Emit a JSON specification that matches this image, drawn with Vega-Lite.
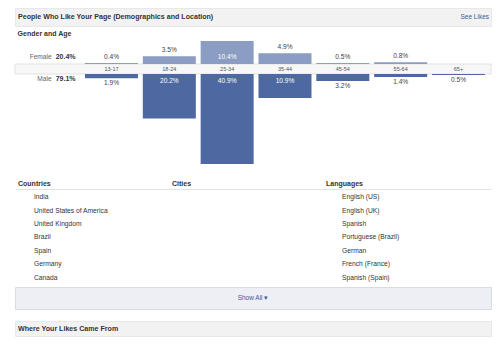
{
  "$schema": "https://vega.github.io/schema/vega-lite/v6.json",
  "padding": {"left": 14, "right": 10, "top": 7, "bottom": 9},
  "background": "white",
  "bounds": "flush",
  "spacing": 12,
  "config": {
    "view": {"stroke": null},
    "font": "Liberation Sans",
    "text": {"font": "Liberation Sans"},
    "title": {"font": "Liberation Sans"},
    "axis": {"labelFont": "Liberation Sans"}
  },
  "datasets": {
    "genderAge": [
      {"gender": "Female", "age": "13-17", "share": 0.004},
      {"gender": "Female", "age": "18-24", "share": 0.035},
      {"gender": "Female", "age": "25-34", "share": 0.104},
      {"gender": "Female", "age": "35-44", "share": 0.049},
      {"gender": "Female", "age": "45-54", "share": 0.005},
      {"gender": "Female", "age": "55-64", "share": 0.008},
      {"gender": "Male", "age": "13-17", "share": 0.019},
      {"gender": "Male", "age": "18-24", "share": 0.202},
      {"gender": "Male", "age": "25-34", "share": 0.409},
      {"gender": "Male", "age": "35-44", "share": 0.109},
      {"gender": "Male", "age": "45-54", "share": 0.032},
      {"gender": "Male", "age": "55-64", "share": 0.014},
      {"gender": "Male", "age": "65+", "share": 0.005}
    ],
    "totals": [
      {"gender": "Female", "share": 0.204},
      {"gender": "Male", "share": 0.791}
    ],
    "lists": [
      {"list": "Countries", "rank": 1, "name": "India"},
      {"list": "Countries", "rank": 2, "name": "United States of America"},
      {"list": "Countries", "rank": 3, "name": "United Kingdom"},
      {"list": "Countries", "rank": 4, "name": "Brazil"},
      {"list": "Countries", "rank": 5, "name": "Spain"},
      {"list": "Countries", "rank": 6, "name": "Germany"},
      {"list": "Countries", "rank": 7, "name": "Canada"},
      {"list": "Languages", "rank": 1, "name": "English (US)"},
      {"list": "Languages", "rank": 2, "name": "English (UK)"},
      {"list": "Languages", "rank": 3, "name": "Spanish"},
      {"list": "Languages", "rank": 4, "name": "Portuguese (Brazil)"},
      {"list": "Languages", "rank": 5, "name": "German"},
      {"list": "Languages", "rank": 6, "name": "French (France)"},
      {"list": "Languages", "rank": 7, "name": "Spanish (Spain)"}
    ]
  },
  "vconcat": [
    {
      "width": 476,
      "height": 18,
      "view": {"fill": "#f2f2f2", "stroke": "#e8e8e8"},
      "layer": [
        {
          "data": {"values": [{}]},
          "mark": {"type": "text", "text": "People Who Like Your Page (Demographics and Location)", "align": "left", "dx": 3, "fontWeight": "bold", "fontSize": 7.1, "color": "#333333"},
          "encoding": {"x": {"datum": 0, "type": "quantitative", "scale": {"domain": [0, 1]}, "axis": null}}
        },
        {
          "data": {"values": [{}]},
          "mark": {"type": "text", "text": "See Likes", "align": "right", "dx": -2, "fontSize": 6.5, "color": "#3b5998"},
          "encoding": {"x": {"datum": 1, "type": "quantitative", "scale": {"domain": [0, 1]}, "axis": null}}
        }
      ]
    },
    {
      "width": 476,
      "height": 139,
      "title": {"text": "Gender and Age", "anchor": "start", "dx": 3, "offset": 1, "fontSize": 7, "fontWeight": "bold", "color": "#333333"},
      "resolve": {"scale": {"y": "independent"}},
      "layer": [
        {
          "layer": [
            {
              "data": {"values": [{}]},
              "mark": {"type": "rect", "fill": "#f7f7f7", "stroke": "#dcdcdc", "strokeWidth": 0.8, "yOffset": -5, "y2Offset": 5},
              "encoding": {
                "y": {"datum": 0, "type": "quantitative", "scale": {"domain": [-0.4909, 0.1409], "nice": false, "zero": false}, "axis": null},
                "y2": {"datum": 0}
              }
            },
            {
              "data": {"name": "genderAge"},
              "transform": [{"filter": "datum.gender == 'Female'"}],
              "mark": {"type": "bar", "color": "#8b9dc3", "yOffset": -5, "y2Offset": -5},
              "encoding": {
                "x": {"field": "age", "type": "nominal", "scale": {"type": "band", "domain": ["All", "13-17", "18-24", "25-34", "35-44", "45-54", "55-64", "65+"], "paddingInner": 0.0835, "paddingOuter": 0.157, "align": 0.669}, "axis": null},
                "y": {"field": "share", "type": "quantitative", "scale": {"domain": [-0.4909, 0.1409], "nice": false, "zero": false}, "axis": null}
              }
            },
            {
              "data": {"name": "genderAge"},
              "transform": [{"filter": "datum.gender == 'Female' && datum.share < 0.1"}],
              "mark": {"type": "text", "dy": -11, "fontSize": 6.6, "color": "#444444"},
              "encoding": {
                "x": {"field": "age", "type": "nominal", "axis": null},
                "y": {"field": "share", "type": "quantitative", "axis": null},
                "text": {"field": "share", "type": "quantitative", "format": ".1%"}
              }
            },
            {
              "data": {"name": "genderAge"},
              "transform": [{"filter": "datum.gender == 'Female' && datum.share >= 0.1"}],
              "mark": {"type": "text", "dy": -12, "fontSize": 6.6, "color": "white"},
              "encoding": {
                "x": {"field": "age", "type": "nominal", "axis": null},
                "y": {"datum": 0, "type": "quantitative", "axis": null},
                "text": {"field": "share", "type": "quantitative", "format": ".1%"}
              }
            },
            {
              "data": {"name": "genderAge"},
              "transform": [{"filter": "datum.gender == 'Male'"}],
              "mark": {"type": "text", "fontSize": 5.5, "color": "#555555"},
              "encoding": {
                "x": {"field": "age", "type": "nominal", "axis": null},
                "y": {"datum": 0, "type": "quantitative", "axis": null},
                "text": {"field": "age", "type": "nominal"}
              }
            },
            {
              "data": {"name": "totals"},
              "transform": [{"filter": "datum.gender == 'Female'"}],
              "mark": {"type": "text", "align": "right", "dx": -2, "dy": -12, "fontSize": 6.6, "color": "#666666"},
              "encoding": {
                "x": {"datum": "All", "type": "nominal", "axis": null},
                "y": {"datum": 0, "type": "quantitative", "axis": null},
                "text": {"field": "gender", "type": "nominal"}
              }
            },
            {
              "data": {"name": "totals"},
              "transform": [{"filter": "datum.gender == 'Female'"}],
              "mark": {"type": "text", "align": "left", "dx": 2, "dy": -12, "fontSize": 7, "fontWeight": "bold", "color": "#333333"},
              "encoding": {
                "x": {"datum": "All", "type": "nominal", "axis": null},
                "y": {"datum": 0, "type": "quantitative", "axis": null},
                "text": {"field": "share", "type": "quantitative", "format": ".1%"}
              }
            }
          ]
        },
        {
          "layer": [
            {
              "data": {"name": "genderAge"},
              "transform": [{"filter": "datum.gender == 'Male'"}],
              "mark": {"type": "bar", "color": "#4e69a2", "yOffset": 5, "y2Offset": 5},
              "encoding": {
                "x": {"field": "age", "type": "nominal", "axis": null},
                "y": {"field": "share", "type": "quantitative", "scale": {"domain": [-0.1409, 0.4909], "reverse": true, "nice": false, "zero": false}, "axis": null}
              }
            },
            {
              "data": {"name": "genderAge"},
              "transform": [{"filter": "datum.gender == 'Male' && datum.share < 0.1"}],
              "mark": {"type": "text", "dy": 10, "fontSize": 6.6, "color": "#444444"},
              "encoding": {
                "x": {"field": "age", "type": "nominal", "axis": null},
                "y": {"field": "share", "type": "quantitative", "axis": null},
                "text": {"field": "share", "type": "quantitative", "format": ".1%"}
              }
            },
            {
              "data": {"name": "genderAge"},
              "transform": [{"filter": "datum.gender == 'Male' && datum.share >= 0.1"}],
              "mark": {"type": "text", "dy": 12, "fontSize": 6.6, "color": "white"},
              "encoding": {
                "x": {"field": "age", "type": "nominal", "axis": null},
                "y": {"datum": 0, "type": "quantitative", "axis": null},
                "text": {"field": "share", "type": "quantitative", "format": ".1%"}
              }
            },
            {
              "data": {"name": "totals"},
              "transform": [{"filter": "datum.gender == 'Male'"}],
              "mark": {"type": "text", "align": "right", "dx": -2, "dy": 10, "fontSize": 6.6, "color": "#666666"},
              "encoding": {
                "x": {"datum": "All", "type": "nominal", "axis": null},
                "y": {"datum": 0, "type": "quantitative", "axis": null},
                "text": {"field": "gender", "type": "nominal"}
              }
            },
            {
              "data": {"name": "totals"},
              "transform": [{"filter": "datum.gender == 'Male'"}],
              "mark": {"type": "text", "align": "left", "dx": 2, "dy": 10, "fontSize": 7, "fontWeight": "bold", "color": "#333333"},
              "encoding": {
                "x": {"datum": "All", "type": "nominal", "axis": null},
                "y": {"datum": 0, "type": "quantitative", "axis": null},
                "text": {"field": "share", "type": "quantitative", "format": ".1%"}
              }
            }
          ]
        }
      ]
    },
    {
      "width": 476,
      "height": 86,
      "data": {"name": "lists"},
      "mark": {"type": "text", "align": "left", "dx": 16, "fontSize": 6.7, "color": "#333333"},
      "encoding": {
        "x": {
          "field": "list", "type": "nominal", "bandPosition": 0,
          "scale": {"type": "band", "domain": ["Countries", "Cities", "Languages"], "paddingInner": 0.065, "paddingOuter": 0.078, "align": 0.125},
          "axis": {"orient": "top", "title": null, "labelAlign": "left", "labelAngle": 0, "labelOffset": -72, "labelFontWeight": "bold", "labelFontSize": 7, "labelColor": "#333333", "labelPadding": 2.5, "ticks": false, "tickSize": 0, "domainColor": "#e3e3e3", "grid": false}
        },
        "y": {"field": "rank", "type": "quantitative", "scale": {"domain": [0.4, 6.8], "reverse": true, "nice": false, "zero": false}, "axis": null},
        "text": {"field": "name", "type": "nominal"}
      }
    },
    {
      "width": 476,
      "height": 22,
      "view": {"fill": "#edeff4", "stroke": "#d5dbe7"},
      "data": {"values": [{}]},
      "mark": {"type": "text", "text": "Show All ▾", "fontSize": 6.5, "color": "#3b5998"},
      "encoding": {}
    },
    {
      "width": 476,
      "height": 15,
      "view": {"fill": "#f2f2f2", "stroke": "#e8e8e8"},
      "data": {"values": [{}]},
      "mark": {"type": "text", "text": "Where Your Likes Came From", "align": "left", "dx": 3, "fontWeight": "bold", "fontSize": 7.1, "color": "#333333"},
      "encoding": {"x": {"datum": 0, "type": "quantitative", "scale": {"domain": [0, 1]}, "axis": null}}
    }
  ]
}
